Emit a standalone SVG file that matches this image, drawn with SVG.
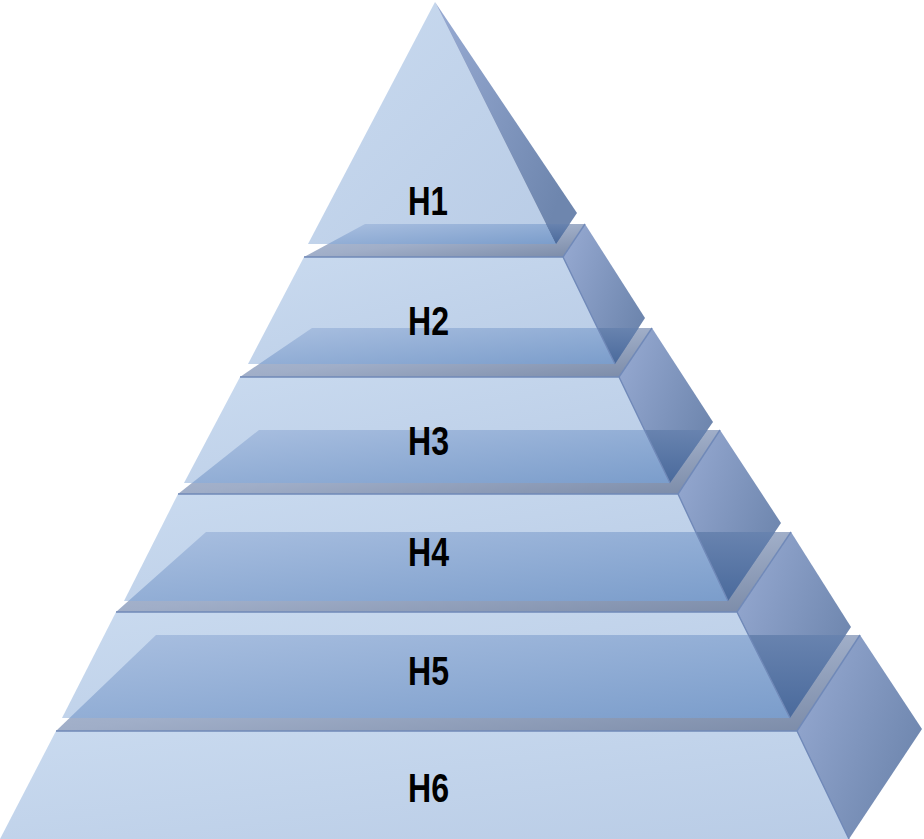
<svg xmlns="http://www.w3.org/2000/svg" width="924" height="839" viewBox="0 0 924 839">
<defs>
<linearGradient id="gF" x1="0" y1="0" x2="1" y2="1"><stop offset="0" stop-color="#c9daef"/><stop offset="1" stop-color="#b9cce6"/></linearGradient>
<linearGradient id="gT" x1="0" y1="0" x2="1" y2="1"><stop offset="0" stop-color="#b2bfd6"/><stop offset="0.5" stop-color="#a0aec8"/><stop offset="1" stop-color="#7a8aa7"/></linearGradient>
<linearGradient id="gS" x1="0" y1="0" x2="1" y2="0.6"><stop offset="0" stop-color="#98abd3"/><stop offset="1" stop-color="#6e86ae"/></linearGradient>
<linearGradient id="gTF" x1="0" y1="0" x2="1" y2="1"><stop offset="0" stop-color="#a9bfe0"/><stop offset="1" stop-color="#7b9dcb"/></linearGradient>
<linearGradient id="gTS" x1="0" y1="0" x2="0" y2="1"><stop offset="0" stop-color="#6883af"/><stop offset="1" stop-color="#4a6a9c"/></linearGradient>
</defs>
<style>
.f{fill:url(#gF)}
.t{fill:url(#gT)}
.s{fill:url(#gS)}
.tf{fill:url(#gTF)}
.ts{fill:url(#gTS)}
.edge{fill:none;stroke:#7089b8;stroke-width:1.4}
.lbl{font-family:"Liberation Sans",Arial,sans-serif;font-weight:bold;font-size:41px;fill:#000}
</style>
<g id="connectors"/>
<g id="H6">
<polygon class="t" points="156,635 860,635 797,731 56,731"/>
<polygon class="f" points="56,731 797,731 849,839 0,839"/>
<polygon class="s" points="860,635 922,729 849,839 797,731"/>
<polyline class="edge" points="56,731 797,731 849,839"/>
<line class="edge" x1="860" y1="635" x2="797" y2="731"/>
<text class="lbl" x="408" y="802" textLength="41" lengthAdjust="spacingAndGlyphs">H6</text>
</g>
<g id="H5">
<polygon class="t" points="206,532 791,532 737,612 116,612"/>
<polygon class="f" points="116,612 737,612 790,718 62,718"/>
<polygon class="s" points="791,532 851,627 790,718 737,612"/>
<polygon class="tf" points="156,635 748.5,635 790,718 69.5,718"/>
<polygon class="ts" points="748.5,635 845.6,635 790,718"/>
<polyline class="edge" points="116,612 737,612 790,718"/>
<line class="edge" x1="791" y1="532" x2="737" y2="612"/>
<text class="lbl" x="408" y="685" textLength="41" lengthAdjust="spacingAndGlyphs">H5</text>
</g>
<g id="H4">
<polygon class="t" points="259,430 720,430 678,494 178,494"/>
<polygon class="f" points="178,494 678,494 728,601 124,601"/>
<polygon class="s" points="720,430 781,523 728,601 678,494"/>
<polygon class="tf" points="206,532 695.8,532 728,601 128.4,601"/>
<polygon class="ts" points="695.8,532 774.9,532 728,601"/>
<polyline class="edge" points="178,494 678,494 728,601"/>
<line class="edge" x1="720" y1="430" x2="678" y2="494"/>
<text class="lbl" x="408" y="566" textLength="41" lengthAdjust="spacingAndGlyphs">H4</text>
</g>
<g id="H3">
<polygon class="t" points="312,328 652,328 619,377 240,377"/>
<polygon class="f" points="240,377 619,377 670,483 184,483"/>
<polygon class="s" points="652,328 713,422 670,483 619,377"/>
<polygon class="tf" points="259,430 644.5,430 670,483 192,483"/>
<polygon class="ts" points="644.5,430 707.4,430 670,483"/>
<polyline class="edge" points="240,377 619,377 670,483"/>
<line class="edge" x1="652" y1="328" x2="619" y2="377"/>
<text class="lbl" x="408" y="455" textLength="41" lengthAdjust="spacingAndGlyphs">H3</text>
</g>
<g id="H2">
<polygon class="t" points="365,224 585,224 563,257 304,257"/>
<polygon class="f" points="304,257 563,257 615,364 248,364"/>
<polygon class="s" points="585,224 645,318 615,364 563,257"/>
<polygon class="tf" points="312,328 597.5,328 615,364 259,364"/>
<polygon class="ts" points="597.5,328 638.5,328 615,364"/>
<polyline class="edge" points="304,257 563,257 615,364"/>
<line class="edge" x1="585" y1="224" x2="563" y2="257"/>
<text class="lbl" x="408" y="335" textLength="41" lengthAdjust="spacingAndGlyphs">H2</text>
</g>
<g id="H1">
<polygon class="f" points="435,2 556,244 308,244"/>
<polygon class="s" points="435,2 577,213 556,244"/>
<polygon class="tf" points="365,224 546,224 556,244 328,244"/>
<polygon class="ts" points="546,224 569.5,224 556,244"/>
<text class="lbl" x="408" y="215" textLength="40" lengthAdjust="spacingAndGlyphs">H1</text>
</g>
</svg>
